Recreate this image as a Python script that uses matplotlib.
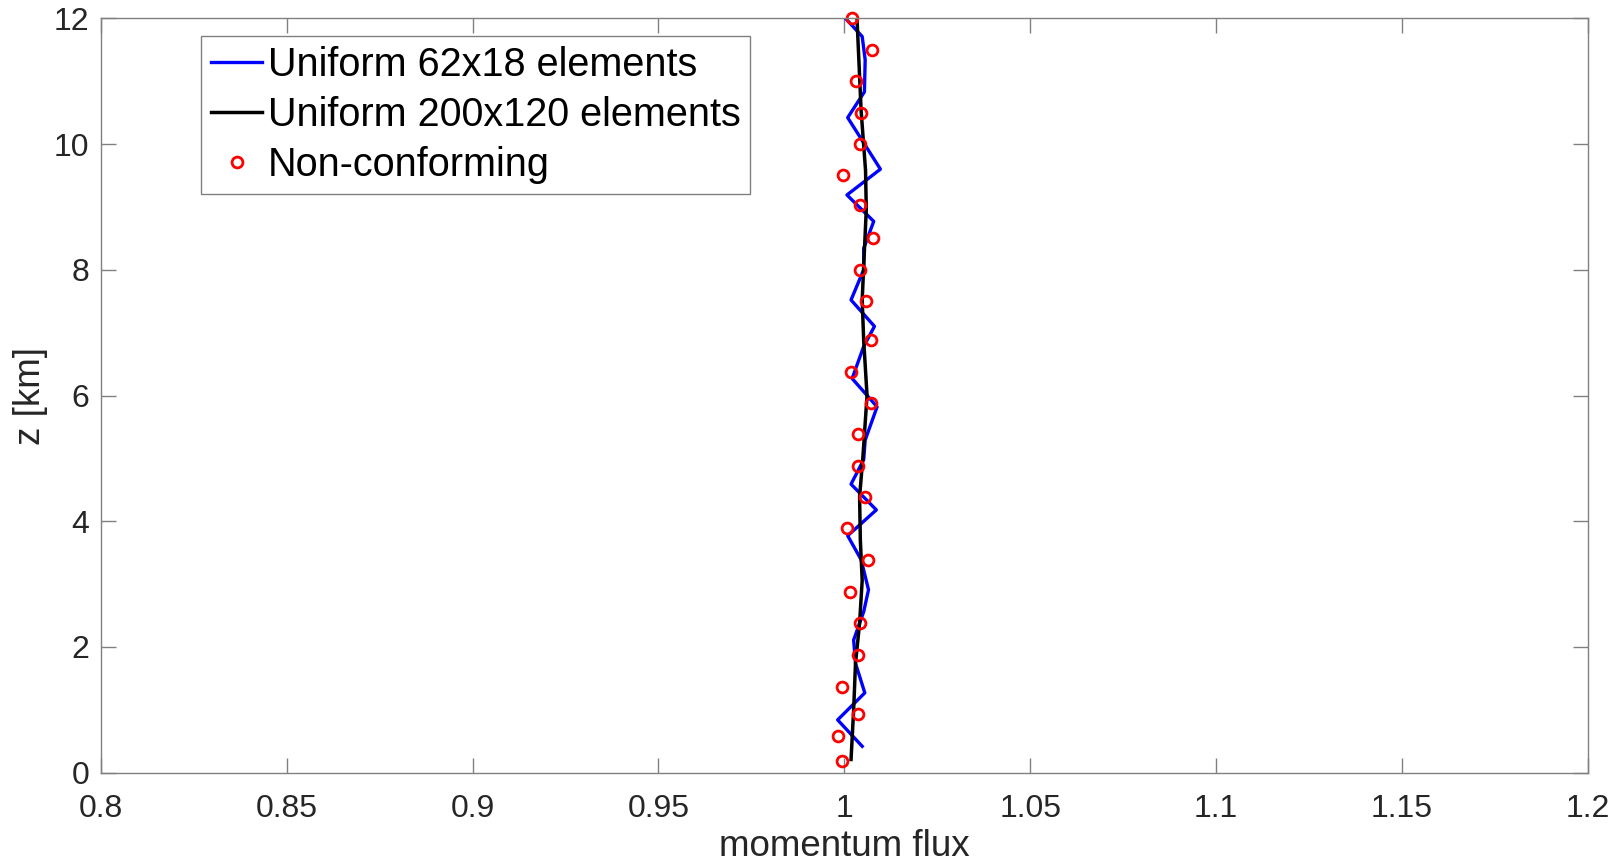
import matplotlib
matplotlib.use('Agg')
import matplotlib.pyplot as plt

plt.rcParams['font.family'] = ['Liberation Sans', 'DejaVu Sans']

# Uniform 62x18 elements (blue)
z_coarse = [0.42, 0.84, 1.27, 1.74, 2.11, 2.56, 2.91, 3.39, 3.77, 4.18, 4.59, 4.98, 5.29, 5.82,
            6.27, 6.78, 7.10, 7.52, 8.00, 8.34, 8.77, 9.19, 9.60, 10.42, 10.83, 11.34, 11.71, 12.00]
flux_coarse = [1.0048, 0.9982, 1.0055, 1.0030, 1.0025, 1.0052, 1.0065, 1.0045, 1.0009, 1.0086, 1.0018, 1.0052, 1.0056, 1.0088,
               1.0021, 1.0052, 1.0081, 1.0018, 1.0052, 1.0052, 1.0079, 1.0007, 1.0097, 1.0009, 1.0054, 1.0056, 1.0048, 1.0003]

# Uniform 200x120 elements (black)
z_fine = [0.21, 1.00, 1.74, 2.38, 3.06, 3.70, 4.39, 5.03, 6.00, 6.88, 7.52, 8.05, 8.96, 9.58, 10.54, 11.34, 12.00]
flux_fine = [1.0018, 1.0025, 1.0030, 1.0041, 1.0048, 1.0043, 1.0041, 1.0050, 1.0061, 1.0052, 1.0048, 1.0052,
             1.0059, 1.0057, 1.0045, 1.0039, 1.0034]

# Non-conforming (red circles)
z_nc = [0.19, 0.58, 0.94, 1.37, 1.88, 2.38, 2.88, 3.38, 3.89, 4.38, 4.88, 5.38, 5.88, 6.38, 6.88,
        7.51, 8.00, 8.50, 9.03, 9.51, 10.00, 10.50, 11.01, 11.50, 12.01]
flux_nc = [0.9995, 0.9982, 1.0038, 0.9994, 1.0036, 1.0041, 1.0014, 1.0064, 1.0007, 1.0056, 1.0036, 1.0036, 1.0073, 1.0018, 1.0073,
           1.0058, 1.0041, 1.0076, 1.0043, 0.9997, 1.0041, 1.0045, 1.0031, 1.0074, 1.0021]

xticks = [0.8, 0.85, 0.9, 0.95, 1.0, 1.05, 1.1, 1.15, 1.2]
xtick_labels = ['0.8', '0.85', '0.9', '0.95', '1', '1.05', '1.1', '1.15', '1.2']
yticks = [0, 2, 4, 6, 8, 10, 12]

fig = plt.figure(figsize=(16.17, 8.66), dpi=100)
ax = fig.add_axes([100.7 / 1617, 1 - 772.7 / 866, (1588 - 100.7) / 1617, (772.7 - 18.3) / 866])

ax.plot(flux_coarse, z_coarse, color='#0000ff', linewidth=2.4, label='Uniform 62x18 elements')
ax.plot(flux_fine, z_fine, color='black', linewidth=2.5, label='Uniform 200x120 elements')
ax.plot(flux_nc, z_nc, linestyle='none', marker='o', markersize=7.8, markerfacecolor='none',
        markeredgecolor='#ff0000', markeredgewidth=2.0, label='Non-conforming', clip_on=False)

ax.set_xlim(0.8, 1.2)
ax.set_ylim(0, 12)
ax.set_xticks(xticks)
ax.set_xticklabels(xtick_labels)
ax.set_yticks(yticks)

for s in ax.spines.values():
    s.set_color('#808080')
    s.set_linewidth(1.0)
ax.tick_params(axis='both', direction='in', length=10.8, width=1.0, color='#808080',
               labelcolor='#262626', labelsize=23, top=True, right=True)
ax.tick_params(axis='x', pad=15)
ax.tick_params(axis='y', pad=8)

# label sits at the very bottom edge, as in the original figure
ax.set_xlabel('momentum flux', fontsize=26.5, color='#262626', labelpad=4)
ax.set_ylabel('z [km]', fontsize=26.5, color='#262626', labelpad=4)

leg = ax.legend(loc='upper left', bbox_to_anchor=(201 / 1617, 1 - 36 / 866), bbox_transform=fig.transFigure,
                borderaxespad=0, fontsize=28.5, handlelength=1.3, handletextpad=0.13, labelspacing=0.3,
                borderpad=0.25, fancybox=False, framealpha=1, edgecolor='#808080')
leg.get_frame().set_linewidth(1.0)

fig.savefig('out.png', dpi=100)
